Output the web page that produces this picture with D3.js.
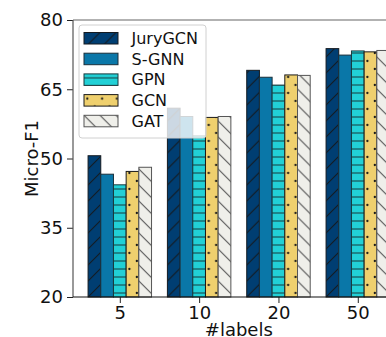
<!DOCTYPE html>
<html>
<head>
<meta charset="utf-8">
<script src="https://cdn.jsdelivr.net/npm/d3@7"></script>
<style>
  html, body { margin: 0; padding: 0; background: #fff; }
  svg { display: block; font-family: "DejaVu Sans", sans-serif; }
</style>
</head>
<body>
<svg id="chart" width="386" height="337"></svg>
<script>
// ---- data ----
const categories = ["5", "10", "20", "50"];
const seriesNames = ["JuryGCN", "S-GNN", "GPN", "GCN", "GAT"];
const juryGCN = [50.6, 60.9, 69.1, 73.8];
const sGNN    = [46.6, 59.1, 67.6, 72.4];
const gpn     = [44.3, 54.9, 65.9, 73.3];
const gcn     = [47.2, 58.9, 68.1, 73.1];
const gat     = [48.1, 59.1, 68.0, 73.4];
const yTicks  = [20, 35, 50, 65, 80];
const xLabel = "#labels";
const yLabel = "Micro-F1";

// ---- styles ----
const seriesValues = [juryGCN, sGNN, gpn, gcn, gat];
const fills   = ["#003e72", "#0a77a8", "#22d0d6", "#efd06e", "#efefea"];
const strokes = ["#141a20", "#1a2f3a", "#18393c", "#1a1a1a", "#555555"];
const hatches = ["/", "", "-", ".", "\\"];

const svg = d3.select("#chart");
const defs = svg.append("defs");

const plotLeft = 73, plotTop = 20, plotBottom = 297, plotRight = 404.6;
const barW = 0.16;
const x = d3.scaleLinear().domain([-0.59, 3.59]).range([plotLeft, plotRight]);
const y = d3.scaleLinear().domain([20, 80]).range([plotBottom, plotTop]);

let pid = 0;
function makePattern(type, fill, stroke, ox, oy) {
  if (!type) return fill;
  const id = "p" + (pid++);
  let w = 16, h = 16;
  if (type === "-") { w = 8; h = 8; }
  if (type === ".") { w = 14.8; h = 16; }
  const p = defs.append("pattern").attr("id", id)
    .attr("patternUnits", "userSpaceOnUse")
    .attr("x", ox).attr("y", oy)
    .attr("width", w).attr("height", h);
  p.append("rect").attr("width", w).attr("height", h).attr("fill", fill);
  if (type === "/") {
    p.append("path").attr("d", "M0,16L16,0M-4,4L4,-4M12,20L20,12")
      .attr("stroke", stroke).attr("stroke-width", 1.1);
  } else if (type === "\\") {
    p.append("path").attr("d", "M0,0L16,16M-4,12L4,20M12,-4L20,4")
      .attr("stroke", stroke).attr("stroke-width", 1.1);
  } else if (type === "-") {
    p.append("path").attr("d", "M0,4L8,4")
      .attr("stroke", stroke).attr("stroke-width", 1);
  } else if (type === ".") {
    p.append("circle").attr("cx", 3.3).attr("cy", 4).attr("r", 1.15).attr("fill", stroke);
    p.append("circle").attr("cx", 10.7).attr("cy", 12).attr("r", 1.15).attr("fill", stroke);
  }
  return "url(#" + id + ")";
}

// ---- bars ----
const barsG = svg.append("g");
categories.forEach((c, i) => {
  seriesNames.forEach((s, j) => {
    const x0 = x(i + (j - 2) * barW - barW / 2);
    const x1 = x(i + (j - 2) * barW + barW / 2);
    const v = seriesValues[j][i];
    const fillRef = makePattern(hatches[j], fills[j], strokes[j], x0, plotBottom);
    barsG.append("rect")
      .attr("x", x0).attr("y", y(v))
      .attr("width", x1 - x0).attr("height", y(20) - y(v))
      .attr("fill", fillRef)
      .attr("stroke", strokes[j]).attr("stroke-width", 1);
  });
});

// ---- axes ----
const yAxis = d3.axisLeft(y).tickValues(yTicks).tickSize(6).tickPadding(4);
const gy = svg.append("g").attr("transform", `translate(${plotLeft},0)`).call(yAxis);
gy.select(".domain").remove();
gy.selectAll("text").attr("font-size", 18).attr("fill", "#111").attr("font-family", "DejaVu Sans");
gy.selectAll("line").attr("stroke", "#222");

const xAxis = d3.axisBottom(x).tickValues(categories.map((c, i) => i))
  .tickFormat((d) => categories[d]).tickSize(6).tickPadding(3);
const gx = svg.append("g").attr("transform", `translate(0,${plotBottom})`).call(xAxis);
gx.select(".domain").remove();
gx.selectAll("text").attr("font-size", 18).attr("fill", "#111").attr("font-family", "DejaVu Sans");
gx.selectAll("line").attr("stroke", "#222");

// spines
svg.append("line").attr("x1", plotLeft).attr("x2", 386).attr("y1", plotTop).attr("y2", plotTop)
  .attr("stroke", "#666").attr("stroke-width", 1.2);
svg.append("line").attr("x1", plotLeft).attr("x2", plotLeft).attr("y1", plotTop).attr("y2", plotBottom)
  .attr("stroke", "#555").attr("stroke-width", 1.2);
svg.append("line").attr("x1", plotLeft).attr("x2", 386).attr("y1", plotBottom).attr("y2", plotBottom)
  .attr("stroke", "#111").attr("stroke-width", 1.2);

// axis labels
svg.append("text").attr("x", (plotLeft + plotRight) / 2).attr("y", 336)
  .attr("text-anchor", "middle").attr("font-size", 18).attr("fill", "#111").text(xLabel);
svg.append("text").attr("transform", `translate(38,${(plotTop + plotBottom) / 2}) rotate(-90)`)
  .attr("text-anchor", "middle").attr("font-size", 18).attr("fill", "#111").text(yLabel);

// ---- legend ----
const lg = svg.append("g");
lg.append("rect").attr("x", 79).attr("y", 25).attr("width", 127).attr("height", 113)
  .attr("rx", 3).attr("fill", "#fff").attr("fill-opacity", 0.8)
  .attr("stroke", "#d0d0d0").attr("stroke-width", 1);
seriesNames.forEach((s, j) => {
  const py = 32.5 + j * 20.7;
  const fillRef = makePattern(hatches[j], fills[j], strokes[j], 84, py);
  lg.append("rect").attr("x", 84).attr("y", py).attr("width", 34).attr("height", 11.5)
    .attr("fill", fillRef).attr("stroke", strokes[j]).attr("stroke-width", 1);
  lg.append("text").attr("x", 131.5).attr("y", py + 5.75).attr("dy", "0.36em")
    .attr("font-size", 16).attr("fill", "#111").text(s);
});
</script>
</body>
</html>
